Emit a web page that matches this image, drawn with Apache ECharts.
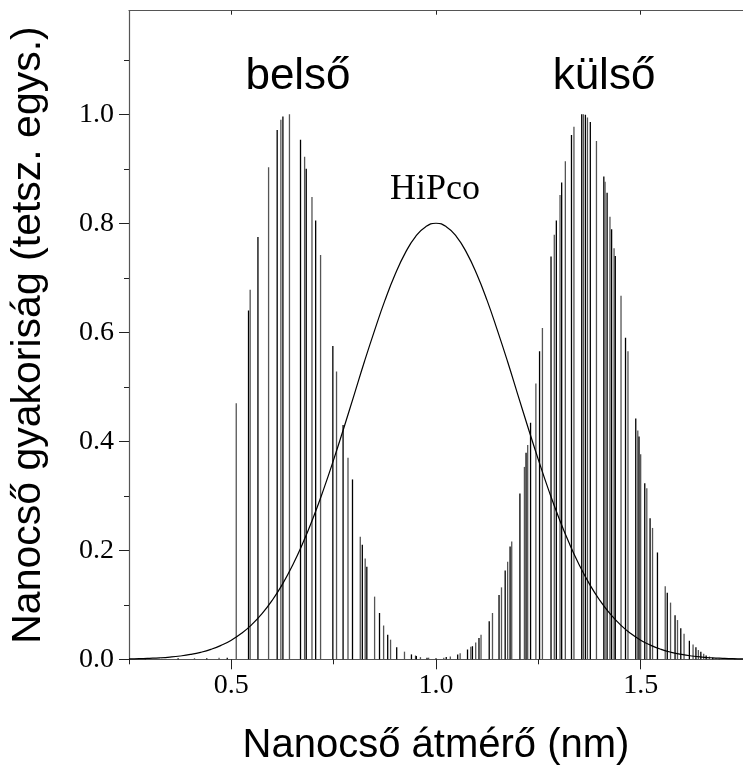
<!DOCTYPE html>
<html>
<head>
<meta charset="utf-8">
<script src="https://cdn.jsdelivr.net/npm/echarts@6/dist/echarts.min.js"></script>
<style>html,body{margin:0;padding:0;background:#fff}#c{width:743px;height:778px}</style>
</head>
<body>
<div id="c"></div>
<script>
// inner (belső) tube diameter distribution
const innerDiam = [0.29,0.33,0.37,0.41,0.44,0.47,0.49,0.512,0.542,0.546,0.565,0.591,0.612,0.621,0.626,0.642,0.669,0.679,0.683,0.697,0.706,0.718,0.748,0.757,0.773,0.785,0.796,0.815,0.820,0.827,0.831,0.850,0.862,0.872,0.882,0.889,0.904,0.923,0.940,0.950,0.952,0.962,0.978,0.982];
const innerFreq = [0.001,0.001,0.002,0.002,0.002,0.003,0.003,0.47,0.64,0.678,0.775,0.903,0.971,0.99,0.996,1.0,0.953,0.922,0.900,0.848,0.805,0.742,0.575,0.528,0.43,0.37,0.33,0.225,0.21,0.185,0.17,0.115,0.085,0.062,0.045,0.036,0.022,0.014,0.009,0.007,0.006,0.004,0.003,0.003];
// outer (külső) tube diameter distribution
const outerDiam = [1.000,1.019,1.025,1.035,1.053,1.059,1.077,1.085,1.089,1.097,1.105,1.110,1.130,1.138,1.154,1.160,1.169,1.175,1.181,1.185,1.205,1.216,1.220,1.224,1.231,1.244,1.253,1.260,1.281,1.289,1.294,1.303,1.307,1.316,1.331,1.337,1.356,1.360,1.365,1.370,1.377,1.392,1.410,1.413,1.418,1.425,1.429,1.435,1.438,1.452,1.463,1.469,1.488,1.493,1.496,1.500,1.510,1.515,1.523,1.529,1.541,1.560,1.565,1.573,1.584,1.590,1.598,1.606,1.619,1.628,1.635,1.641,1.647,1.654,1.660,1.668,1.676,1.684,1.692,1.712,1.730,1.745];
const outerFreq = [0.002,0.003,0.004,0.005,0.009,0.011,0.018,0.023,0.024,0.031,0.039,0.045,0.070,0.085,0.118,0.132,0.163,0.179,0.207,0.216,0.304,0.353,0.379,0.393,0.434,0.506,0.565,0.608,0.739,0.779,0.805,0.852,0.875,0.914,0.962,0.977,1.0,1.0,0.999,0.994,0.986,0.951,0.886,0.876,0.856,0.812,0.789,0.754,0.740,0.667,0.590,0.565,0.442,0.420,0.409,0.376,0.323,0.314,0.259,0.241,0.196,0.134,0.122,0.104,0.081,0.072,0.057,0.047,0.034,0.027,0.022,0.017,0.014,0.010,0.007,0.005,0.003,0.002,0.001,0.001,0.001,0.001];
// HiPco distribution curve
const hipcoDiam = [0.25,0.275,0.3,0.325,0.35,0.375,0.4,0.425,0.45,0.475,0.5,0.525,0.55,0.575,0.6,0.625,0.65,0.675,0.7,0.725,0.75,0.775,0.8,0.825,0.85,0.875,0.9,0.925,0.95,0.975,1.0,1.025,1.05,1.075,1.1,1.125,1.15,1.175,1.2,1.225,1.25,1.275,1.3,1.325,1.35,1.375,1.4,1.425,1.45,1.475,1.5,1.525,1.55,1.575,1.6,1.625,1.65,1.675,1.7,1.725,1.75];
const hipcoFreq = [0.0007,0.0011,0.0018,0.0027,0.0041,0.0061,0.0089,0.0128,0.0182,0.0255,0.0351,0.0477,0.0637,0.0837,0.1083,0.1380,0.1731,0.2137,0.2597,0.3109,0.3663,0.4249,0.4852,0.5459,0.6035,0.6580,0.7060,0.7457,0.7754,0.7938,0.8,0.7938,0.7754,0.7457,0.7060,0.6580,0.6035,0.5459,0.4852,0.4249,0.3663,0.3109,0.2597,0.2137,0.1731,0.1380,0.1083,0.0837,0.0637,0.0477,0.0351,0.0255,0.0182,0.0128,0.0089,0.0061,0.0041,0.0027,0.0018,0.0011,0.0007];
// ticks
const xMajorTicks = [0.5,1.0,1.5];
const xMinorTicks = [0.25,0.75,1.25,1.75];
const yMajorTicks = [0,0.2,0.4,0.6,0.8,1.0];
const yMinorTicks = [0.1,0.3,0.5,0.7,0.9,1.1];

const zip = (a,b) => a.map((v,i)=>[v,b[i]]);
const axisColor = '#555';
const serif = '"Liberation Serif","Times New Roman",serif';
const sans = '"Liberation Sans",Arial,sans-serif';
const barColor = p => (p.dataIndex % 2 ? '#555' : '#000');

const chart = echarts.init(document.getElementById('c'), null, {renderer:'canvas'});
chart.setOption({
  animation:false,
  backgroundColor:'#fff',
  grid:{left:128.5, right:-6, top:10.7, bottom:118.7},
  xAxis:[
    {type:'value', min:0.25, max:1.75, position:'bottom',
     axisLine:{show:true, onZero:false, lineStyle:{color:axisColor, width:1.2}},
     axisTick:{show:true, customValues:xMajorTicks, length:10, lineStyle:{color:'#222'}},
     axisLabel:{customValues:xMajorTicks, formatter:v=>v.toFixed(1), margin:12, color:'#000', fontFamily:serif, fontSize:28},
     splitLine:{show:false},
     name:'Nanocső átmérő (nm)', nameLocation:'middle', nameGap:67,
     nameTextStyle:{fontFamily:sans, fontSize:40, color:'#000'}},
    {type:'value', min:0.25, max:1.75, position:'bottom',
     axisLine:{show:false, onZero:false},
     axisTick:{show:true, customValues:xMinorTicks, length:5, lineStyle:{color:'#222'}},
     axisLabel:{show:false}, splitLine:{show:false}},
    {type:'value', min:0.25, max:1.75, position:'top',
     axisLine:{show:true, onZero:false, lineStyle:{color:axisColor, width:1.2}},
     axisTick:{show:true, inside:true, customValues:xMajorTicks, length:4, lineStyle:{color:'#222'}},
     axisLabel:{show:false}, splitLine:{show:false}}
  ],
  yAxis:[
    {type:'value', min:0, max:1.19, position:'left',
     axisLine:{show:true, onZero:false, lineStyle:{color:axisColor, width:1.2}},
     axisTick:{show:true, customValues:yMajorTicks, length:10, lineStyle:{color:'#222'}},
     axisLabel:{customValues:yMajorTicks, formatter:v=>v.toFixed(1), margin:15, color:'#000', fontFamily:serif, fontSize:28},
     splitLine:{show:false},
     name:'Nanocső gyakoriság (tetsz. egys.)', nameLocation:'middle', nameGap:80, nameRotate:90,
     nameTextStyle:{fontFamily:sans, fontSize:41, color:'#000'}},
    {type:'value', min:0, max:1.19, position:'left',
     axisLine:{show:false, onZero:false},
     axisTick:{show:true, customValues:yMinorTicks, length:5, lineStyle:{color:'#222'}},
     axisLabel:{show:false}, splitLine:{show:false}}
  ],
  series:[
    {type:'bar', name:'belső', xAxisIndex:0, yAxisIndex:0, data:zip(innerDiam, innerFreq),
     barWidth:1.3, barGap:'-100%', itemStyle:{color:barColor}, silent:true},
    {type:'bar', name:'külső', xAxisIndex:0, yAxisIndex:0, data:zip(outerDiam, outerFreq),
     barWidth:1.3, barGap:'-100%', itemStyle:{color:barColor}, silent:true},
    {type:'line', name:'HiPco', xAxisIndex:0, yAxisIndex:0, data:zip(hipcoDiam, hipcoFreq),
     smooth:true, showSymbol:false, lineStyle:{color:'#000', width:1.2}, silent:true, z:5}
  ],
  graphic:[
    {type:'text', x:298, y:77, style:{text:'belső', fontFamily:sans, fontSize:44, fill:'#000', align:'center', verticalAlign:'middle'}},
    {type:'text', x:604, y:77, style:{text:'külső', fontFamily:sans, fontSize:44, fill:'#000', align:'center', verticalAlign:'middle'}},
    {type:'text', x:435, y:190, style:{text:'HiPco', fontFamily:serif, fontSize:36, fill:'#000', align:'center', verticalAlign:'middle'}}
  ]
});
</script>
</body>
</html>
